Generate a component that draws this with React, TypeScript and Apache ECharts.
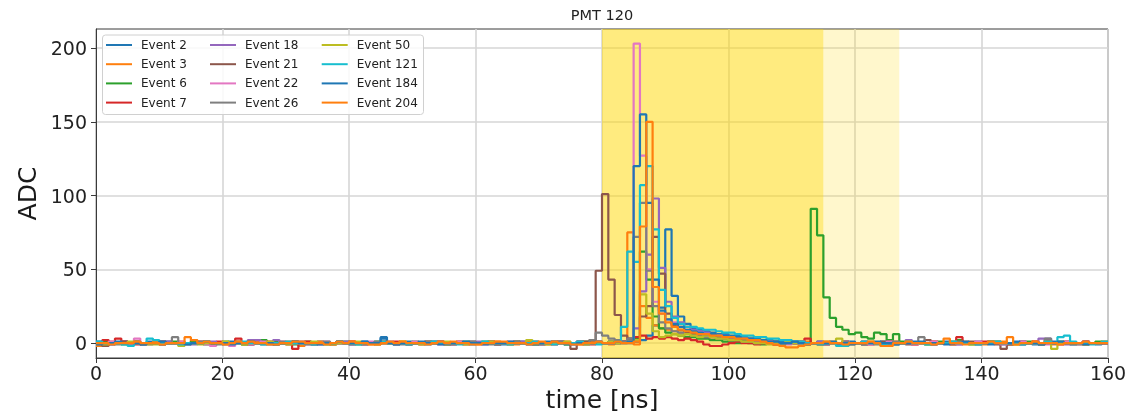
import React, { useEffect, useRef } from "react";
import * as echarts from "echarts";

const eventNames = [
  "Event 2", "Event 3", "Event 6", "Event 7",
  "Event 18", "Event 21", "Event 22", "Event 26",
  "Event 50", "Event 121", "Event 184", "Event 204",
];
const eventColors = [
  "#1f77b4", "#ff7f0e", "#2ca02c", "#d62728",
  "#9467bd", "#8c564b", "#e377c2", "#7f7f7f",
  "#bcbd22", "#17becf", "#1f77b4", "#ff7f0e",
];

// ADC per 1 ns bin, bins 0..159
const ev2 = [
  1,0,-1,0,1,0,0,-1,1,0,0,1,0,-1,0,1,0,0,-1,0,
  0,1,0,0,-1,0,1,0,-1,0,0,1,0,0,-1,1,0,0,1,0,
  -1,0,1,0,0,4,0,-1,0,1,0,0,-1,0,1,0,0,1,0,-1,
  0,0,1,0,-1,0,0,1,0,-1,0,1,0,0,-1,0,1,0,0,1,
  0,1,0,1,0,1,2,5,12,24,77,32,18,13,10,9,8,7,6,6,
  5,5,4,3,3,2,2,1,1,0,1,0,-1,0,1,0,0,-1,0,1,
  0,-1,0,0,1,0,-1,0,0,1,0,0,-1,0,1,0,-1,0,0,1,
  0,1,0,-1,0,0,1,0,-1,0,0,1,0,0,-1,0,1,0,-1,0,
];
const ev3 = [
  -2,0,1,0,0,-1,1,0,0,1,-1,0,0,1,0,2,0,0,-1,0,
  0,0,1,-1,0,1,0,0,-1,0,1,0,-2,0,0,1,0,-1,0,0,
  1,0,0,-1,0,1,0,0,1,-1,0,0,1,0,0,-1,0,1,0,0,
  -1,0,0,1,0,0,-1,0,1,0,0,-1,0,0,1,0,-1,0,1,0,
  0,-1,0,1,75,-1,25,17,12,10,9,8,7,7,6,5,5,4,4,3,
  3,2,2,1,1,0,0,-1,0,1,0,0,1,0,-1,0,1,0,0,-1,
  0,1,0,0,-1,0,1,0,0,-1,0,0,1,0,0,-1,0,1,0,0,
  -1,0,0,1,0,-1,0,0,1,0,0,-1,0,1,0,0,-1,0,0,1,
];
const ev6 = [
  0,1,0,0,-1,0,1,0,0,0,-1,0,1,0,0,1,0,-1,0,0,
  1,0,0,-1,0,0,2,0,1,0,0,-1,0,1,0,0,-1,0,0,1,
  0,-1,0,0,1,0,0,-1,0,0,1,0,0,1,0,-1,0,0,1,0,
  0,1,0,-1,0,0,1,0,0,-1,0,0,1,0,-1,0,0,1,0,0,
  0,1,0,1,1,3,62,43,18,10,7,6,5,4,4,3,3,2,2,1,
  1,0,1,0,0,-1,0,1,0,0,0,1,0,91,73,31,17,11,9,6,
  7,4,3,7,6,2,6,1,1,0,0,-1,0,1,0,0,2,0,-1,0,
  0,1,0,0,-1,0,0,1,0,-1,0,0,1,0,0,-1,0,0,1,0,
];
const ev7 = [
  0,2,0,3,1,0,-1,0,0,0,1,0,0,-1,0,0,1,0,0,1,
  0,0,3,0,-1,0,0,1,0,0,-1,-4,0,1,0,0,0,-1,0,0,
  1,0,0,0,-1,0,0,1,0,0,0,-1,0,0,1,0,0,0,-1,0,
  0,0,1,0,0,-1,0,0,0,1,0,0,-1,0,0,0,1,0,-1,0,
  0,0,1,1,2,4,5,3,4,3,4,3,2,3,2,1,-1,-2,-2,-1,
  0,1,0,0,-1,0,0,-1,0,1,0,0,3,0,0,-1,0,0,1,0,
  0,0,-1,0,0,1,0,0,0,-1,0,0,1,0,0,0,4,0,0,0,
  1,0,0,0,-1,0,0,0,1,0,2,0,-1,0,0,0,1,0,0,0,
];
const ev18 = [
  0,0,-1,0,1,0,0,0,-1,0,0,1,0,0,0,-1,0,0,1,0,
  0,-1,0,0,2,2,0,0,2,0,0,0,1,0,0,-1,0,0,0,1,
  0,0,-1,0,0,0,1,0,0,-1,0,0,0,1,0,0,-1,0,0,0,
  1,0,0,-1,0,0,0,1,0,0,-1,0,0,1,0,0,0,-1,0,0,
  0,1,0,1,3,10,35,60,98,51,28,18,14,11,9,8,7,6,5,5,
  4,4,3,3,2,2,1,1,0,1,0,0,-1,0,1,0,0,0,-1,0,
  0,1,0,0,0,-1,0,0,2,0,0,0,-1,0,0,1,0,0,0,-1,
  0,0,1,0,0,0,-1,0,0,3,3,0,0,-1,0,0,1,0,0,0,
];
const ev21 = [
  0,-2,0,0,1,0,0,-1,0,0,1,0,0,0,-1,0,0,1,0,0,
  -1,0,0,0,1,0,0,-1,0,0,0,1,0,0,-1,0,0,0,1,0,
  0,0,-1,0,0,1,0,0,0,-1,0,0,1,0,0,0,-1,0,0,1,
  0,0,0,-1,0,0,1,0,0,0,-1,0,0,1,0,-4,0,1,2,49,
  101,43,19,5,3,2,18,25,72,47,20,12,9,7,6,5,4,4,3,3,
  2,2,1,1,0,0,1,0,-1,0,0,1,0,0,-1,0,0,0,1,0,
  0,-1,0,0,1,0,0,0,-1,0,0,2,0,0,0,-1,0,0,1,0,
  0,0,-1,-4,0,0,1,0,0,-1,0,0,0,1,0,0,-1,0,0,0,
];
const ev22 = [
  0,0,1,0,0,-1,3,0,0,0,-1,0,0,1,0,0,0,-1,-2,0,
  0,-2,0,0,-1,0,1,0,0,1,0,0,0,-1,0,0,1,0,0,0,
  -1,0,0,1,0,0,0,-1,0,0,1,0,0,0,-1,0,0,1,0,0,
  0,-1,0,0,0,1,0,0,-1,0,0,0,1,0,0,-1,0,0,0,1,
  0,0,1,0,1,203,127,50,28,20,16,14,11,9,8,7,6,5,5,4,
  4,3,3,2,2,1,1,0,0,-1,0,1,0,0,0,-1,0,0,1,0,
  0,0,-1,0,0,1,0,0,0,-1,0,0,1,0,0,0,-1,0,0,1,
  0,0,0,-1,0,0,1,0,0,0,-1,0,0,1,0,-1,0,0,0,0,
];
const ev26 = [
  0,0,0,-1,0,0,1,0,0,0,-1,0,4,0,0,0,1,0,0,-1,
  0,0,1,0,0,0,-1,0,0,1,0,0,0,-1,0,0,1,0,0,0,
  -1,0,0,0,1,0,0,0,-1,0,0,0,1,0,0,-1,0,0,0,1,
  0,0,-1,0,0,0,1,0,0,-1,0,0,0,1,0,0,0,-1,2,7,
  5,3,2,1,3,72,95,49,25,14,10,8,7,6,5,5,4,4,3,3,
  2,2,1,1,0,1,0,0,-1,0,0,1,0,0,0,-1,0,0,1,0,
  0,0,0,-1,0,0,1,0,0,0,4,0,-1,0,0,0,1,0,0,-1,
  0,0,1,0,0,0,-1,0,0,0,3,0,0,0,-1,0,0,0,0,0,
];
const ev50 = [
  0,-1,0,0,0,1,0,0,-1,-1,0,0,0,-2,0,0,-1,0,0,0,
  1,0,0,-1,0,0,0,1,0,0,-1,0,0,0,1,0,0,-1,0,0,
  0,1,0,0,-1,0,0,0,1,0,0,-1,0,0,0,1,0,0,-1,0,
  0,0,1,0,0,-1,0,0,2,0,0,-1,0,0,1,0,0,-1,0,0,
  0,1,0,0,1,2,33,20,8,4,5,6,5,6,5,4,5,4,3,3,
  2,2,1,1,0,0,-1,0,0,1,0,0,-1,0,0,1,0,3,0,0,
  0,0,1,0,-1,0,0,0,1,0,0,-1,0,0,0,1,0,0,-1,0,
  0,0,1,0,0,-1,0,0,0,0,1,-4,0,0,0,0,-1,0,0,1,
];
const ev121 = [
  1,0,0,0,-1,-2,0,0,3,2,0,0,0,-1,0,0,0,1,0,0,
  0,0,0,1,0,0,-1,0,0,0,1,0,0,0,-1,0,0,0,1,0,
  0,-1,0,0,0,1,0,0,0,-1,0,0,0,1,0,0,0,-1,0,0,
  0,1,0,0,0,-1,0,0,0,1,0,0,-1,0,0,0,1,0,0,-1,
  0,0,1,11,62,55,107,120,77,36,25,17,13,11,11,10,9,9,8,7,
  7,6,5,5,4,4,3,3,2,2,1,1,0,0,-1,0,0,-2,-2,0,
  0,1,0,0,-1,0,0,0,1,0,0,-1,0,0,0,1,0,0,0,-1,
  0,0,1,0,0,0,-1,0,0,0,1,0,4,5,1,0,0,-1,0,1,
];
const ev184 = [
  -1,0,0,1,0,0,0,-1,0,0,1,0,0,0,-1,0,0,1,0,0,
  0,-1,0,0,1,0,0,0,-1,0,0,1,0,0,0,-1,0,0,1,0,
  0,0,1,0,0,3,0,-1,0,0,0,1,0,0,-1,0,0,0,1,0,
  0,-1,0,0,0,1,0,0,-1,0,0,0,1,0,0,-1,0,0,0,1,
  0,0,1,0,1,120,155,95,43,22,16,13,11,9,8,7,6,6,5,5,
  4,4,3,3,2,2,1,1,0,0,1,0,-1,0,0,0,1,0,0,-1,
  0,0,0,1,0,0,-1,0,0,0,1,0,0,0,-1,0,0,1,0,0,
  0,-1,0,0,0,1,0,0,0,-1,0,0,1,0,0,0,-1,0,0,0,
];
const ev204 = [
  0,0,-1,0,0,0,1,0,0,0,-1,0,0,0,4,2,0,1,0,0,
  -1,0,1,0,1,0,0,-1,-1,0,0,1,1,0,0,0,-1,0,1,0,
  1,0,0,-1,-1,0,1,0,1,0,0,0,-1,0,1,0,1,0,0,-1,
  -1,0,0,1,1,0,0,0,-1,0,1,0,1,0,0,-1,-1,0,0,1,
  0,0,1,0,0,1,79,150,38,20,14,11,9,8,7,6,6,5,5,4,
  4,3,3,2,2,1,0,-1,-2,-3,-3,-2,-1,0,0,1,0,0,-1,0,
  0,0,1,0,-2,-2,0,0,1,0,0,0,-1,0,3,0,0,-1,0,0,
  0,1,0,0,4,-1,0,0,1,0,0,0,-1,0,0,0,1,0,0,0,
];

const eventValues = [ev2, ev3, ev6, ev7, ev18, ev21, ev22, ev26, ev50, ev121, ev184, ev204];

const yTicks = [0, 50, 100, 150, 200];
const mainWindow = [80, 115];
const lateWindow = [115, 127];

const FONT = "DejaVu Sans";

export default function App() {
  const ref = useRef<HTMLDivElement>(null);

  useEffect(() => {
    const chart = echarts.init(ref.current!, null, { renderer: "svg" });

    const lineSeries = eventValues.map((vals, i) => ({
      name: eventNames[i],
      type: "line",
      step: "end",
      symbol: "none",
      showSymbol: false,
      z: 2,
      data: [...vals.map((v, j) => [j, v]), [vals.length, vals[vals.length - 1]]],
      lineStyle: { width: 2.2, color: eventColors[i] },
      itemStyle: { color: eventColors[i] },
      emphasis: { disabled: true },
      silent: true,
    }));

    const shadeSeries = {
      name: "windows",
      type: "line",
      data: [],
      z: 1,
      silent: true,
      markArea: {
        silent: true,
        itemStyle: { color: "rgba(255,215,0,0.5)" },
        data: [
          [{ xAxis: mainWindow[0] }, { xAxis: mainWindow[1] }],
          [
            { xAxis: lateWindow[0], itemStyle: { color: "rgba(255,215,0,0.2)" } },
            { xAxis: lateWindow[1] },
          ],
        ],
      },
    };

    const legendLefts = [106, 210, 321.7];
    const legends = [0, 1, 2].map((c) => ({
      data: eventNames.slice(c * 4, c * 4 + 4),
      orient: "vertical",
      left: legendLefts[c],
      top: 39,
      padding: 0,
      icon: "rect",
      itemWidth: 26,
      itemHeight: 2,
      itemGap: 7.2,
      selectedMode: false,
      z: 5,
      textStyle: {
        fontFamily: FONT,
        fontSize: 12,
        color: "#222",
        padding: [0, 0, 0, 4],
      },
    }));

    chart.setOption({
      animation: false,
      title: {
        text: "PMT 120",
        left: 602,
        top: 7,
        textAlign: "center",
        padding: 0,
        textStyle: { fontFamily: FONT, fontSize: 14.5, fontWeight: "normal", color: "#222" },
      },
      legend: legends,
      graphic: [
        {
          type: "rect",
          z: 4,
          x: 102.5,
          y: 35,
          shape: { x: 0, y: 0, width: 321, height: 79.5, r: 3 },
          style: { fill: "rgba(255,255,255,0.85)", stroke: "#d0d0d0", lineWidth: 1 },
          silent: true,
        },
      ],
      grid: {
        left: 96,
        right: 19,
        top: 29,
        bottom: 55,
        containLabel: false,
        outerBoundsMode: "none",
        show: true,
        borderColor: "#3a3a3a",
        borderWidth: 1,
      },
      xAxis: {
        type: "value",
        min: 0,
        max: 160,
        interval: 20,
        name: "time [ns]",
        nameLocation: "middle",
        nameGap: 28,
        nameTextStyle: { fontFamily: FONT, fontSize: 25, color: "#1a1a1a" },
        axisLine: { show: true, onZero: false, lineStyle: { color: "#3a3a3a", width: 1 } },
        axisTick: { show: true, length: 5, lineStyle: { color: "#3a3a3a" } },
        axisLabel: { fontFamily: FONT, fontSize: 19, color: "#222", margin: 5 },
        splitLine: { show: true, lineStyle: { color: "#d6d6d6", width: 1.6 } },
      },
      yAxis: {
        type: "value",
        min: -10.15,
        max: 212.9,
        name: "ADC",
        nameLocation: "middle",
        nameGap: 53,
        nameTextStyle: { fontFamily: FONT, fontSize: 25, color: "#1a1a1a" },
        axisLine: { show: true, onZero: false, lineStyle: { color: "#3a3a3a", width: 1 } },
        axisTick: { show: true, length: 5, customValues: yTicks, lineStyle: { color: "#3a3a3a" } },
        axisLabel: {
          fontFamily: FONT,
          fontSize: 19,
          color: "#222",
          margin: 9,
          customValues: yTicks,
        },
        splitLine: { show: true, lineStyle: { color: "#d6d6d6", width: 1.6 } },
      },
      series: [shadeSeries, ...lineSeries],
    });

    return () => chart.dispose();
  }, []);

  return (
    <div
      ref={ref}
      style={{ position: "fixed", left: 0, top: 0, width: 1127, height: 413 }}
    />
  );
}
